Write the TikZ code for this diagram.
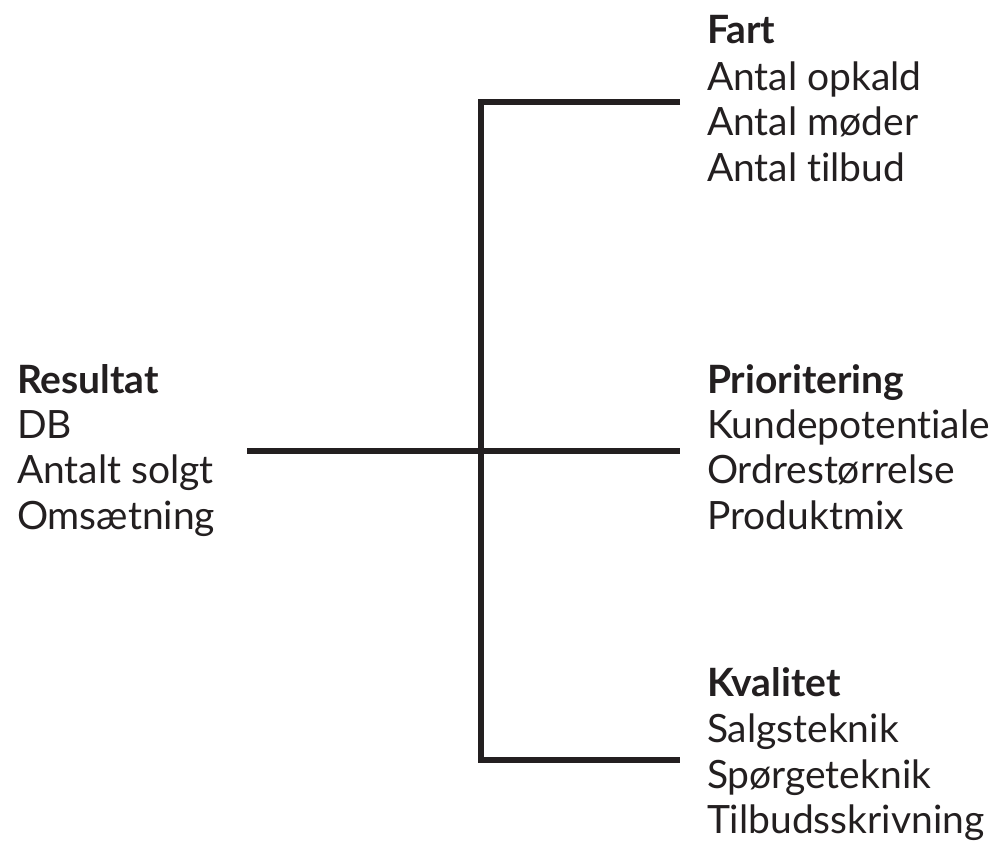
\documentclass[tikz,border=0pt]{standalone}
\usepackage{fontspec}
\setmainfont{Lato}[Ligatures=NoCommon]
\definecolor{ink}{HTML}{231F20}
\begin{document}
\begin{tikzpicture}[x=1pt,y=-1pt,
  lbl/.style={anchor=base west,inner sep=0pt,outer sep=0pt,text=ink,font=\fontsize{39}{46}\selectfont},
  hd/.style={lbl,font=\fontsize{39}{46}\selectfont\bfseries},
  conn/.style={draw=ink,line width=6pt,line cap=butt,line join=miter}]
\useasboundingbox (0,0) rectangle (995,841);
% left
\node[hd]  (res)  at (17,393) {Resultat};
\node[lbl] (db)   at (17,438) {DB};
\node[lbl] (as)   at (17,483) {Antalt solgt};
\node[lbl] (oms)  at (17,529) {Omsætning};
% top
\node[hd]  (fart) at (707,43) {Fart};
\node[lbl] (ao)   at (707,90) {Antal opkald};
\node[lbl] (am)   at (707,135) {Antal møder};
\node[lbl] (at)   at (707,181) {Antal tilbud};
% middle
\node[hd]  (prio) at (707,393) {Prioritering};
\node[lbl] (kp)   at (707,438) {Kundepotentiale};
\node[lbl] (os)   at (707,483) {Ordrestørrelse};
\node[lbl] (pm)   at (707,529) {Produktmix};
% bottom
\node[hd]  (kval) at (707,696) {Kvalitet};
\node[lbl] (st)   at (707,742) {Salgsteknik};
\node[lbl] (sp)   at (707,788) {Spørgeteknik};
\node[lbl] (tb)   at (707,833) {Tilbudsskrivning};
% connector points
\coordinate (lstart) at (247,451);
\coordinate (junc)   at (481,451);
\coordinate (tend)   at (680,102);
\coordinate (mend)   at (680,451);
\coordinate (bend)   at (680,760);
\coordinate (vbot)   at (481,760);
\draw[conn] (tend) -| (vbot) -- (bend);
\draw[conn] (lstart) -- (junc) -- (mend);
\end{tikzpicture}
\end{document}
